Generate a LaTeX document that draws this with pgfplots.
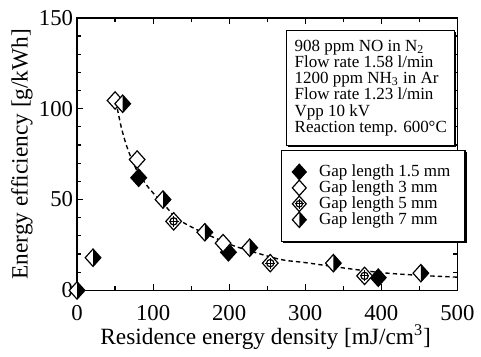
\documentclass[border=0pt]{standalone}
\usepackage{fontspec}
\setmainfont{Liberation Serif}
\usepackage{pgfplots}
\pgfplotsset{compat=1.18}
\usetikzlibrary{shadows}

\newcommand{\dpath}{%
 \pgfpathmoveto{\pgfqpoint{0pt}{\pgfplotmarksize}}%
 \pgfpathlineto{\pgfqpoint{0.9\pgfplotmarksize}{0pt}}%
 \pgfpathlineto{\pgfqpoint{0pt}{-\pgfplotmarksize}}%
 \pgfpathlineto{\pgfqpoint{-0.9\pgfplotmarksize}{0pt}}%
 \pgfpathclose}
\pgfdeclareplotmark{dfill}{\pgfsetfillcolor{black}\dpath\pgfusepathqfillstroke}
\pgfdeclareplotmark{dopen}{\pgfsetfillcolor{white}\dpath\pgfusepathqfillstroke}
\pgfdeclareplotmark{dhalf}{%
 \pgfsetfillcolor{white}\dpath\pgfusepathqfill
 \pgfsetfillcolor{black}%
 \pgfpathmoveto{\pgfqpoint{0pt}{\pgfplotmarksize}}%
 \pgfpathlineto{\pgfqpoint{0.9\pgfplotmarksize}{0pt}}%
 \pgfpathlineto{\pgfqpoint{0pt}{-\pgfplotmarksize}}%
 \pgfpathclose\pgfusepathqfill
 \dpath\pgfusepathqstroke}
\pgfdeclareplotmark{dcross}{%
 \pgfsetfillcolor{white}\dpath\pgfusepathqfillstroke
 \pgfpathcircle{\pgfpointorigin}{0.42\pgfplotmarksize}\pgfusepathqstroke
 \pgfpathmoveto{\pgfqpoint{0pt}{0.62\pgfplotmarksize}}%
 \pgfpathlineto{\pgfqpoint{0pt}{-0.62\pgfplotmarksize}}%
 \pgfpathmoveto{\pgfqpoint{-0.56\pgfplotmarksize}{0pt}}%
 \pgfpathlineto{\pgfqpoint{0.56\pgfplotmarksize}{0pt}}%
 \pgfusepathqstroke}

\begin{document}
\begin{tikzpicture}
\begin{axis}[
  scale only axis,
  width=192.5pt, height=138pt,
  xmin=0, xmax=500, ymin=0, ymax=150,
  xtick={0,100,...,500}, ytick={0,50,100,150},
  minor x tick num=1, minor y tick num=4,
  major tick length=3pt, minor tick length=2pt,
  tick style={black, line width=0.6pt},
  axis line style={line width=0.8pt},
  clip=false,
  /pgf/number format/assume math mode=true,
  tick label style={font=\fontsize{11.5}{11.5}\selectfont},
  yticklabel style={xshift=1.5pt},
  xticklabel style={yshift=-4pt},
  xlabel={Residence energy density [mJ/cm\textsuperscript{3}]},
  ylabel={Energy efficiency [g/kWh]},
  label style={font=\fontsize{11.8}{11.8}\selectfont},
  xlabel style={at={(axis description cs:0.496,-0.172)}, anchor=center},
  ylabel style={at={(axis description cs:-0.145,0.5)}, anchor=center, rotate=0},
  legend cell align=left,
  legend style={at={(axis cs:268,77.5)}, anchor=north west, draw=black,
    line width=0.6pt, font=\fontsize{8.6}{8.6}\selectfont,
    row sep=-3.4pt, inner xsep=5.5pt, inner ysep=5.3pt,
    /tikz/every odd column/.append style={column sep=4.5pt},
    drop shadow={shadow xshift=0.8pt, shadow yshift=-0.8pt, fill=black, opacity=1}},
  legend image code/.code={\draw[#1, only marks, mark size=3.9pt] plot coordinates {(0.3cm,0cm)};},
]
\addplot[only marks, mark=dfill, mark size=4.4pt, mark options={line width=0.6pt}]
  coordinates {(81,62) (199,21) (396,7)};
\addlegendentry{Gap length 1.5 mm}
\addplot[only marks, mark=dopen, mark size=4.4pt, mark options={line width=0.6pt}]
  coordinates {(50,104.5) (79,72) (192,26)};
\addlegendentry{Gap length 3 mm}
\addplot[only marks, mark=dcross, mark size=4.4pt, mark options={line width=0.6pt}]
  coordinates {(127,38) (254,15) (378,8)};
\addlegendentry{Gap length 5 mm}
\addplot[only marks, mark=dhalf, mark size=4.4pt, mark options={line width=0.6pt}]
  coordinates {(0,0) (21,18) (60,102.7) (113,50) (168,32) (227,23.5) (337,15) (452,9.5)};
\addlegendentry{Gap length 7 mm}
\addplot[black, line width=0.7pt, dash pattern=on 2.2pt off 1.6pt, smooth, forget plot]
  coordinates {(53,100) (58,90) (64,81) (71,73) (80,65) (95,56) (113,48) (130,40)
   (150,35) (170,31) (200,25.5) (225,22) (268,17) (300,15.3) (348,12.5)
   (400,9.8) (450,8.3) (500,7.3)};
\node[draw=black, fill=white, line width=0.6pt, anchor=north west,
  align=left, inner xsep=4pt, inner ysep=5pt,
  font=\fontsize{8.6}{8.2}\selectfont,
  drop shadow={shadow xshift=0.8pt, shadow yshift=-0.8pt, fill=black, opacity=1}]
  at (axis cs:275,143.5)
  {908 ppm NO in N\textsubscript{2}\\
   Flow rate 1.58 l/min\\
   1200 ppm NH\textsubscript{3} in Ar\\
   Flow rate 1.23 l/min\\
   Vpp 10 kV\\
   Reaction temp. 600°C};
\end{axis}
\path[use as bounding box] ([shift={(-39pt,-33pt)}]current axis.south west)
  rectangle ([shift={(201.5pt,147pt)}]current axis.south west);
\end{tikzpicture}
\end{document}
